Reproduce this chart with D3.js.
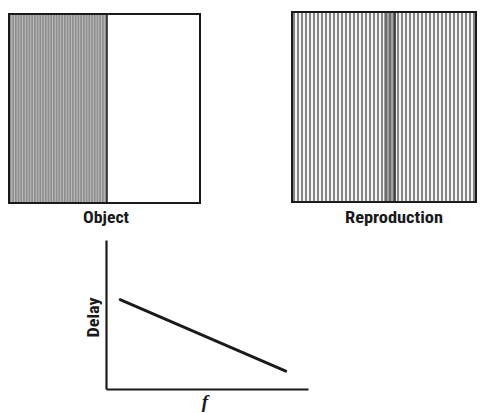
<!DOCTYPE html>
<html><head><meta charset="utf-8">
<script src="https://cdn.jsdelivr.net/npm/d3@7"></script>
<style>body{margin:0;background:#fff}svg{display:block}</style>
</head><body>
<script>
const panelLabels = ["Object", "Reproduction"];
const objectShade = [1, 0];            // left half shaded, right half clear
const reproStripeCount = 46;           // coarse stripes across reproduction
const reproDarkBand = [0.5, 0.56];     // fractional extent of dark edge band
const fValues = [0.07, 0.89];
const delayValues = [0.6, 0.12];
const axisLabels = {x: "f", y: "Delay"};

const W = 481, H = 413;
const svg = d3.select("body").append("svg").attr("width", W).attr("height", H);
const ink = "#1a1a1a";
const labelFont = "Liberation Sans Narrow, Roboto Condensed, Liberation Sans, sans-serif";

// ---- Object panel ----
const ox = d3.scaleLinear().domain([0, 1]).range([9, 200]);
const oy = d3.scaleLinear().domain([0, 1]).range([14, 203]);
const split = 0.513;
const gObj = svg.append("g");
gObj.selectAll("rect.h").data(objectShade).join("rect")
  .attr("x", (d, i) => i === 0 ? ox(0) : ox(split))
  .attr("y", oy(0)).attr("height", oy(1) - oy(0))
  .attr("width", (d, i) => i === 0 ? ox(split) - ox(0) : ox(1) - ox(split))
  .attr("fill", d => d ? "#8e8e8e" : "#fff");
const fine = d3.range(0, 1, 1 / 36);
gObj.selectAll("line.f").data(fine).join("line")
  .attr("x1", d => ox(0) + d * (ox(split) - ox(0))).attr("x2", d => ox(0) + d * (ox(split) - ox(0)))
  .attr("y1", oy(0)).attr("y2", oy(1))
  .attr("stroke", "#c4c4c4").attr("stroke-width", 0.9);
gObj.append("line").attr("x1", ox(split)).attr("x2", ox(split)).attr("y1", oy(0)).attr("y2", oy(1))
  .attr("stroke", ink).attr("stroke-width", 1.5);
gObj.append("rect").attr("x", ox(0)).attr("y", oy(0)).attr("width", ox(1) - ox(0)).attr("height", oy(1) - oy(0))
  .attr("fill", "none").attr("stroke", ink).attr("stroke-width", 2);
svg.append("text").attr("x", 106).attr("y", 223).attr("text-anchor", "middle")
  .attr("font-family", labelFont).attr("textLength", 46).attr("lengthAdjust", "spacingAndGlyphs")
  .attr("font-weight", "bold").attr("font-size", 16).attr("fill", ink).text(panelLabels[0]);

// ---- Reproduction panel ----
const rx = d3.scaleLinear().domain([0, 1]).range([292, 476]);
const ry = d3.scaleLinear().domain([0, 1]).range([12, 202]);
const gRep = svg.append("g");
gRep.append("rect").attr("x", rx(0)).attr("y", ry(0)).attr("width", rx(1) - rx(0)).attr("height", ry(1) - ry(0))
  .attr("fill", "#f4f4f4");
gRep.append("rect").attr("x", rx(reproDarkBand[0])).attr("y", ry(0))
  .attr("width", rx(reproDarkBand[1]) - rx(reproDarkBand[0])).attr("height", ry(1) - ry(0))
  .attr("fill", "#a0a0a0");
const stripes = d3.range(reproStripeCount).map(i => (i + 0.5) / reproStripeCount);
gRep.selectAll("line.s").data(stripes).join("line")
  .attr("x1", d => rx(d)).attr("x2", d => rx(d))
  .attr("y1", ry(0)).attr("y2", ry(1))
  .attr("stroke", "#555").attr("stroke-width", 1.4);
gRep.append("line").attr("x1", rx(reproDarkBand[1])).attr("x2", rx(reproDarkBand[1]))
  .attr("y1", ry(0)).attr("y2", ry(1)).attr("stroke", "#333").attr("stroke-width", 1.6);
gRep.append("rect").attr("x", rx(0)).attr("y", ry(0)).attr("width", rx(1) - rx(0)).attr("height", ry(1) - ry(0))
  .attr("fill", "none").attr("stroke", ink).attr("stroke-width", 2);
svg.append("text").attr("x", 394).attr("y", 223).attr("text-anchor", "middle")
  .attr("font-family", labelFont).attr("textLength", 98).attr("lengthAdjust", "spacingAndGlyphs")
  .attr("font-weight", "bold").attr("font-size", 16).attr("fill", ink).text(panelLabels[1]);

// ---- Delay vs f graph ----
const x = d3.scaleLinear().domain([0, 1]).range([106, 308]);
const y = d3.scaleLinear().domain([0, 1]).range([389, 240]);
const g = svg.append("g");
g.append("g").attr("transform", `translate(0,${y(0)})`)
  .call(d3.axisBottom(x).tickValues([]).tickSizeOuter(0))
  .call(s => s.select(".domain").attr("stroke", ink).attr("stroke-width", 2.2));
g.append("g").attr("transform", `translate(${x(0)},0)`)
  .call(d3.axisLeft(y).tickValues([]).tickSizeOuter(0))
  .call(s => s.select(".domain").attr("stroke", ink).attr("stroke-width", 2.2));
const pts = fValues.map((f, i) => [f, delayValues[i]]);
g.append("path").datum(pts)
  .attr("d", d3.line().x(d => x(d[0])).y(d => y(d[1])))
  .attr("fill", "none").attr("stroke", ink).attr("stroke-width", 2.8).attr("stroke-linecap", "round");
g.append("text").attr("transform", `translate(99,${y(0.48)}) rotate(-90)`).attr("text-anchor", "middle")
  .attr("font-family", labelFont).attr("textLength", 40).attr("lengthAdjust", "spacingAndGlyphs")
  .attr("font-weight", "bold").attr("font-size", 16).attr("fill", ink).text(axisLabels.y);
g.append("text").attr("x", x(0.49)).attr("y", 408).attr("text-anchor", "middle")
  .attr("font-family", "Liberation Serif, serif").attr("font-style", "italic").attr("font-weight", "bold")
  .attr("font-size", 19).attr("fill", ink).text(axisLabels.x);
</script>
</body></html>
